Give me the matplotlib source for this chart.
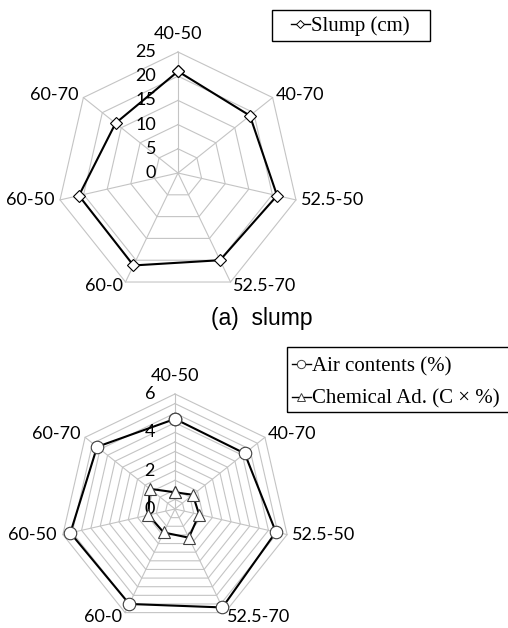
import numpy as np
import matplotlib.pyplot as plt
from matplotlib.patches import Rectangle
from matplotlib.lines import Line2D
from matplotlib.transforms import offset_copy

categories = ['40-50', '40-70', '52.5-50', '52.5-70', '60-0', '60-50', '60-70']
slump = [21.0, 19.0, 21.0, 20.0, 21.2, 21.0, 16.5]
air_contents = [4.7, 4.65, 5.4, 5.7, 5.5, 5.6, 5.2]
chemical_ad = [0.87, 1.19, 1.29, 1.66, 1.36, 1.42, 1.69]

slump_rings = [5, 10, 15, 20, 25]
slump_ticks = [0, 5, 10, 15, 20, 25]
air_rings = [0.5, 1, 1.5, 2, 2.5, 3, 3.5, 4, 4.5, 5, 5.5, 6]
air_ticks = [0, 2, 4, 6]

GRID = '#c4c4c4'
LABEL_FONT = 'Lato'
SERIF = 'Liberation Serif'

# label placement around the polygon (pixel offsets, alignment)
label_pos = [(0, 18, 'center'), (3, 3, 'left'), (5, 0, 'left'), (2, -4, 'left'),
             (-3, -4, 'right'), (-6, 0, 'right'), (-5, 3, 'right')]

fig = plt.figure(figsize=(5.08, 6.28), dpi=100)


def radar(rect, rmax, rings, ticks, tick_dx):
    ax = fig.add_axes(rect, projection='polar')
    ax.set_theta_zero_location('N')
    ax.set_theta_direction(-1)
    ax.set_ylim(0, rmax)
    ax.set_axis_off()
    n = len(categories)
    theta = np.linspace(0, 2 * np.pi, n, endpoint=False)
    closed = np.append(theta, theta[0])
    for r in rings:
        ax.plot(closed, [r] * (n + 1), color=GRID, lw=0.8, zorder=1, clip_on=False)
    for t in theta:
        ax.plot([t, t], [0, rmax], color=GRID, lw=0.8, zorder=1, clip_on=False)
    tr = offset_copy(ax.transData, fig=fig, x=tick_dx, y=0, units='dots')
    for v in ticks:
        ax.text(0, v, str(v), transform=tr, ha='right', va='center',
                fontsize=13, family=LABEL_FONT, zorder=2)
    for t, name, (dx, dy, ha) in zip(theta, categories, label_pos):
        tr = offset_copy(ax.transData, fig=fig, x=dx, y=dy, units='dots')
        ax.text(t, rmax, name, transform=tr, ha=ha, va='center',
                fontsize=13, family=LABEL_FONT)
    return ax, closed


# (a) slump
ax1, th = radar([57 / 508, 334 / 628, 242 / 508, 242 / 628], 25,
                slump_rings, slump_ticks, -22)
ax1.plot(th, slump + slump[:1], color='black', lw=1.5, marker='D', ms=6,
         mfc='white', mec='black', mew=0.8, zorder=3, clip_on=False)

# air contents / chemical admixture
ax2, th = radar([60 / 508, 4 / 628, 230 / 508, 230 / 628], 6,
                air_rings, air_ticks, -20)
ax2.plot(th, air_contents + air_contents[:1], color='black', lw=1.5, marker='o',
         ms=9, mfc='white', mec='#404040', mew=0.8, zorder=3, clip_on=False)
ax2.plot(th, chemical_ad + chemical_ad[:1], color='black', lw=1.5, marker='^',
         ms=8.5, mfc='white', mec='#404040', mew=0.8, zorder=3, clip_on=False)

fig.text(262 / 508, 1 - 318 / 628, '(a)  slump', ha='center', va='center',
         fontsize=16.5, family='Liberation Sans')

# legends
fig.add_artist(Rectangle((272 / 508, 1 - 41 / 628), 158 / 508, 31 / 628,
                         transform=fig.transFigure, fill=False, ec='black', lw=1))
h1 = [Line2D([], [], color='black', lw=1, marker='D', ms=4.5, mfc='white', mec='black', mew=0.7)]
fig.legend(h1, ['Slump (cm)'], loc='center left', bbox_to_anchor=(291 / 508, 1 - 26 / 628),
           frameon=False, borderpad=0, borderaxespad=0, handlelength=0.9,
           handletextpad=0.05, prop={'family': SERIF, 'size': 15})

fig.add_artist(Rectangle((287 / 508, 1 - 412 / 628), 230 / 508, 65 / 628,
                         transform=fig.transFigure, fill=False, ec='black', lw=1))
h2 = [Line2D([], [], color='black', lw=1, marker='o', ms=6, mfc='white', mec='#404040', mew=0.7),
      Line2D([], [], color='black', lw=1, marker='^', ms=6, mfc='white', mec='#404040', mew=0.7)]
fig.legend(h2, ['Air contents (%)', 'Chemical Ad. (C \u00d7 %)'], loc='center left',
           bbox_to_anchor=(292 / 508, 1 - 383 / 628), frameon=False, borderpad=0,
           borderaxespad=0, handlelength=0.9, handletextpad=0.05, labelspacing=0.6,
           prop={'family': SERIF, 'size': 15})

fig.savefig('out.png', dpi=100)
